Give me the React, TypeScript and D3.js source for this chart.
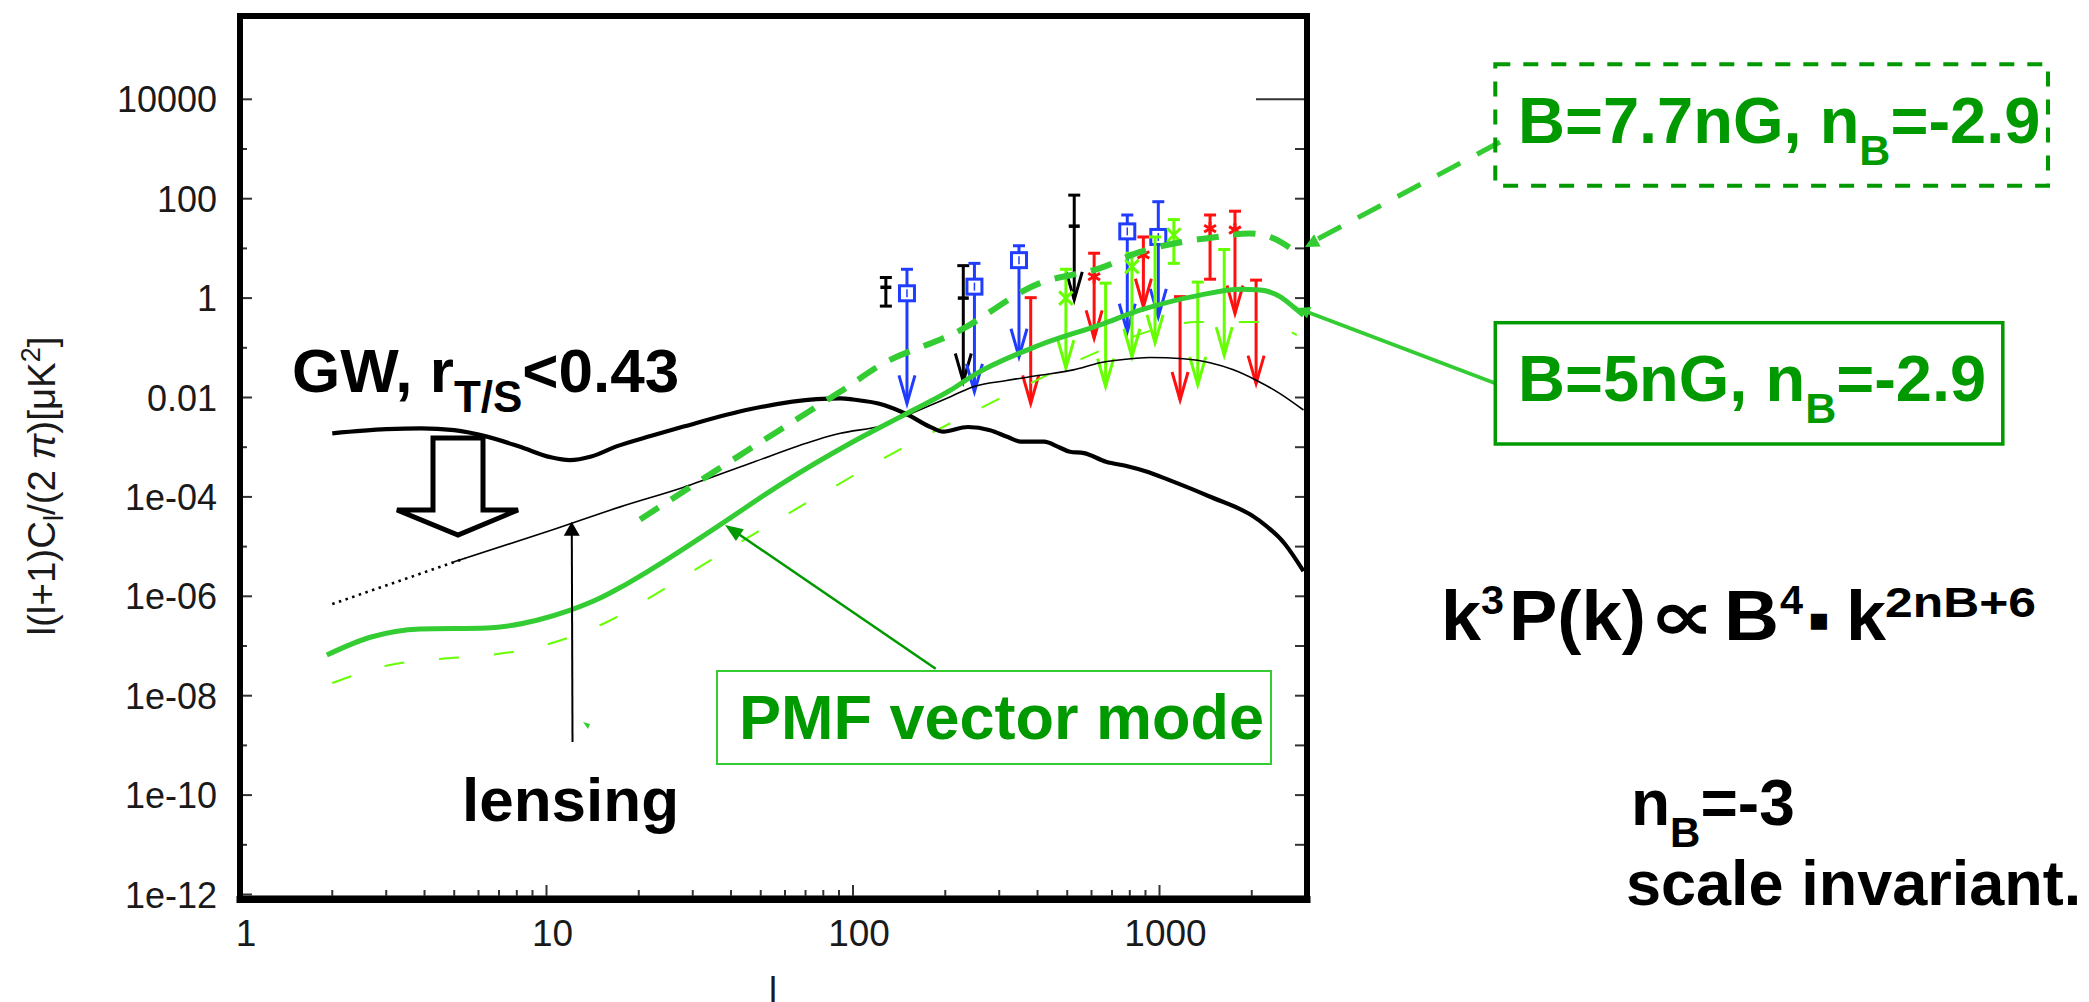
import React from "react";
import * as d3 from "d3";

// ---------- axis ticks ----------
const xMajorTicks = [10, 100, 1000];
const xLabelTicks = [1, 10, 100, 1000];
const xTickLabels = ["1", "10", "100", "1000"];
const xMinorTicks = [2, 3, 4, 5, 6, 7, 8, 9, 20, 30, 40, 50, 60, 70, 80, 90, 200, 300, 400, 500, 600, 700, 800, 900, 2000];
const yMajorTicks = [1e4, 1e2, 1, 1e-2, 1e-4, 1e-6, 1e-8, 1e-10, 1e-12];
const yTickLabels = ["10000", "100", "1", "0.01", "1e-04", "1e-06", "1e-08", "1e-10", "1e-12"];
const yMinorTicks = [1e3, 1e1, 1e-1, 1e-3, 1e-5, 1e-7, 1e-9, 1e-11];
const yRightTicks = [1e3, 1e2, 1e1, 1, 1e-1, 1e-2, 1e-3, 1e-4, 1e-5, 1e-6, 1e-7, 1e-8, 1e-9, 1e-10, 1e-11];
const yRightLongTick = [1e4];

// ---------- curves: [l, l(l+1)C_l/2pi] ----------
const gwTensor: [number, number][] = [
  [2, 1.9e-3], [3, 2.3e-3], [3.9, 2.4e-3], [5, 2.2e-3], [6.4, 1.63e-3], [8.2, 1.02e-3],
  [10.3, 6.3e-4], [11.9, 5.5e-4], [14, 6.5e-4], [17, 1.05e-3], [22, 1.7e-3], [28, 2.6e-3],
  [46, 5.8e-3], [76, 9.3e-3], [91, 9.6e-3], [100, 9.1e-3], [126, 7.1e-3], [150, 4.6e-3],
  [180, 2.5e-3], [197, 2.05e-3], [237, 2.55e-3], [280, 2.2e-3], [320, 1.6e-3], [353, 1.3e-3],
  [420, 1.3e-3], [470, 1.0e-3], [510, 8.1e-4], [567, 7.6e-4], [669, 5.1e-4], [792, 4.1e-4],
  [900, 3.3e-4], [1072, 2.2e-4], [1450, 1.03e-4], [2096, 3.5e-5], [2565, 1.13e-5], [2950, 3.2e-6],
];
const lensingLowL: [number, number][] = [[2, 7e-7], [5.42, 5.8e-6]];
const lensing: [number, number][] = [
  [4.97, 4.9e-6], [10.3, 2.1e-5], [17.4, 6.3e-5], [27.9, 1.55e-4], [46, 4.7e-4], [76, 1.4e-3],
  [91, 1.9e-3], [126, 2.8e-3], [150, 4.4e-3], [208, 1.04e-2], [247, 1.65e-2], [317, 2.2e-2],
  [407, 2.8e-2], [524, 3.6e-2], [640, 5e-2], [822, 6.1e-2], [931, 6.4e-2], [1197, 6e-2],
  [1462, 5e-2], [1742, 3.6e-2], [2075, 2.2e-2], [2472, 1.2e-2], [2950, 5.6e-3],
];
const pmf5nG: [number, number][] = [
  [1.92, 6.6e-8], [2.66, 1.5e-7], [3.87, 2.2e-7], [6.4, 2.3e-7], [9.3, 3.3e-7], [11.9, 5.2e-7],
  [14.9, 9.1e-7], [17.4, 1.5e-6], [21.8, 3.4e-6], [36, 2.5e-5], [59, 1.9e-4], [98, 1.2e-3],
  [150, 4.8e-3], [208, 1.4e-2], [247, 2.8e-2], [407, 0.114], [640, 0.29], [864, 0.57],
  [1356, 1.15], [1832, 1.5], [2128, 1.45], [2472, 1.07], [2730, 0.67], [2950, 0.45],
];
const pmf77nG: [number, number][] = [
  [20.2, 3.5e-5], [36, 3.5e-4], [76, 6.5e-3], [90.7, 1.3e-2], [126, 4.9e-2], [191, 0.144],
  [208, 0.18], [407, 2.0], [640, 4.0], [864, 8.5], [1055, 11.7], [1537, 17], [1973, 20],
  [2351, 16], [2730, 9.3],
];
const pmfThin: [number, number][] = [
  [2.0, 1.8e-8], [3.0, 4e-8], [4.5, 5.5e-8], [6.4, 6.5e-8], [9.3, 9.5e-8], [13.6, 2.05e-7],
  [15.5, 2.9e-7], [21.8, 9.5e-7], [32.4, 4.3e-6], [67, 6.3e-5], [140, 8.5e-4], [302, 9.6e-3],
  [640, 8.7e-2], [955, 0.23], [1321, 0.33], [2128, 0.33], [2805, 0.18],
];

// ---------- measurements ----------
type Pt = { l: number; top: number; mid?: number; tip?: number; bottom?: number };
const blackData: Pt[] = [
  { l: 128, top: 2.6, mid: 1.65, bottom: 0.69 },
  { l: 229, top: 4.5, mid: 1.0, tip: 0.021 },
  { l: 527, top: 118, mid: 28, tip: 0.92 },
];
const blueData: Pt[] = [
  { l: 150, top: 3.8, mid: 1.25, tip: 7.6e-3 },
  { l: 249, top: 5.0, mid: 1.7, tip: 0.013 },
  { l: 348, top: 11.3, mid: 5.8, tip: 0.066 },
  { l: 785, top: 47, mid: 22, tip: 0.21 },
  { l: 991, top: 87, mid: 17, tip: 0.42 },
];
const redData: Pt[] = [
  { l: 380, top: 1.02, tip: 7.6e-3 },
  { l: 612, top: 8.0, mid: 2.7, tip: 0.155 },
  { l: 886, top: 17, mid: 7.4, tip: 0.67 },
  { l: 1167, top: 1.07, tip: 8.9e-3 },
  { l: 1462, top: 47, mid: 25, bottom: 2.4 },
  { l: 1763, top: 56, mid: 23.4, tip: 0.49 },
  { l: 2066, top: 2.3, tip: 0.019 },
];
const greenData: Pt[] = [
  { l: 495, top: 3.8, mid: 1.0, tip: 0.039 },
  { l: 667, top: 2.0, tip: 0.0166 },
  { l: 813, top: 8, mid: 4.3, tip: 0.066 },
  { l: 967, top: 17, tip: 0.126 },
  { l: 1114, top: 38, mid: 18.6, bottom: 5.0 },
  { l: 1333, top: 2.1, tip: 0.018 },
  { l: 1626, top: 9.5, tip: 0.071 },
];

const FONT = "'Liberation Sans', Arial, Helvetica, sans-serif";
const C_BLACK = "#000";
const C_BLUE = "#1f3cff";
const C_RED = "#ff1010";
const C_LGREEN = "#66ff00";
const C_GREEN = "#33cc33";
const C_DGREEN = "#009900";

const W = 2089;
const H = 1002;
const PL = 240, PR = 1307, PT = 16, PB = 899.5;

const x = d3.scaleLog().domain([1, 3000]).range([240, 240 + 306.5 * Math.log10(3000)]);
const y = d3.scaleLog().domain([1e-12, 1e4]).range([894.5, 894.5 - 49.7 * 16]);

const line = d3
  .line<[number, number]>()
  .x((d) => x(d[0]))
  .y((d) => y(d[1]))
  .curve(d3.curveMonotoneX);

const asterisk = d3.symbol().type(d3.symbolAsterisk).size(130);
const timesType = (d3 as any).symbolTimes || (d3 as any).symbolX || d3.symbolCross;
const times = d3.symbol().type(timesType).size(120);

function arrowHead(tx: number, ty: number, fx: number, fy: number, len: number, hw: number) {
  const dx = tx - fx, dy = ty - fy;
  const n = Math.hypot(dx, dy);
  const ux = dx / n, uy = dy / n;
  const bx = tx - ux * len, by = ty - uy * len;
  const px = -uy * hw, py = ux * hw;
  return `${tx},${ty} ${bx + px},${by + py} ${bx - px},${by - py}`;
}

function DataPoint({ p, color, marker }: { p: Pt; color: string; marker: string }) {
  const cx = x(p.l);
  const yt = y(p.top);
  const yEnd = p.tip !== undefined ? y(p.tip) : y(p.bottom as number);
  const sw = 3;
  return (
    <g stroke={color} fill="none" strokeWidth={sw}>
      <line x1={cx} x2={cx} y1={yt} y2={yEnd} />
      <line x1={cx - 6} x2={cx + 6} y1={yt} y2={yt} />
      {p.bottom !== undefined && <line x1={cx - 6} x2={cx + 6} y1={yEnd} y2={yEnd} />}
      {p.tip !== undefined && (
        <path d={`M${cx - 8},${yEnd - 28} L${cx},${yEnd} L${cx + 8},${yEnd - 28}`} />
      )}
      {p.mid !== undefined && marker === "dash" && (
        <line x1={cx - 5.5} x2={cx + 5.5} y1={y(p.mid)} y2={y(p.mid)} strokeWidth={3.5} />
      )}
      {p.mid !== undefined && marker === "square" && (
        <rect x={cx - 7.5} y={y(p.mid) - 7.5} width={15} height={15} strokeWidth={3} fill="white" />
      )}
      {p.mid !== undefined && marker === "square" && (
        <line x1={cx} x2={cx} y1={y(p.mid) - 4} y2={y(p.mid) + 4} strokeWidth={1.5} />
      )}
      {p.mid !== undefined && marker === "asterisk" && (
        <path d={asterisk() as string} transform={`translate(${cx},${y(p.mid)})`} />
      )}
      {p.mid !== undefined && marker === "times" && (
        <path d={times() as string} transform={`translate(${cx},${y(p.mid)})`} />
      )}
    </g>
  );
}

export default function App() {
  const tickColor = "#333";
  return (
    <div>
      <style>{`body{margin:0;background:#fff}`}</style>
      <svg width={W} height={H} style={{ position: "absolute", left: 0, top: 0, background: "#fff" }} fontFamily={FONT}>
        <defs>
          <clipPath id="plotclip">
            <rect x={PL} y={PT} width={PR - PL} height={PB - PT} />
          </clipPath>
        </defs>

        {/* thin axis baseline */}
        <line x1={PL} x2={PR} y1={895.5} y2={895.5} stroke="#777" strokeWidth={1.2} />

        {/* left ticks */}
        {yMajorTicks.map((t, i) => (
          <line key={"ym" + i} x1={PL} x2={PL + 12} y1={y(t)} y2={y(t)} stroke={tickColor} strokeWidth={2} />
        ))}
        {yMinorTicks.map((t, i) => (
          <line key={"yn" + i} x1={PL} x2={PL + 7} y1={y(t)} y2={y(t)} stroke={tickColor} strokeWidth={2} />
        ))}
        {/* right ticks */}
        {yRightTicks.map((t, i) => (
          <line key={"yr" + i} x1={PR - 12} x2={PR} y1={y(t)} y2={y(t)} stroke={tickColor} strokeWidth={2} />
        ))}
        {yRightLongTick.map((t, i) => (
          <line key={"yrl" + i} x1={1256} x2={PR} y1={y(t)} y2={y(t)} stroke={tickColor} strokeWidth={2} />
        ))}
        {/* bottom ticks */}
        {xMajorTicks.map((t, i) => (
          <line key={"xm" + i} x1={x(t)} x2={x(t)} y1={896} y2={885} stroke={tickColor} strokeWidth={2} />
        ))}
        {xMinorTicks.map((t, i) => (
          <line key={"xn" + i} x1={x(t)} x2={x(t)} y1={896} y2={890} stroke={tickColor} strokeWidth={2} />
        ))}

        {/* tick labels */}
        {yMajorTicks.map((t, i) => (
          <text key={"yl" + i} x={217} y={y(t) + 13} textAnchor="end" fontSize={36} fill="#1a1a1a">
            {yTickLabels[i]}
          </text>
        ))}
        {xLabelTicks.map((t, i) => (
          <text key={"xl" + i} x={x(t) + 6} y={946} textAnchor="middle" fontSize={37} fill="#1a1a1a">
            {xTickLabels[i]}
          </text>
        ))}

        {/* axis titles */}
        <text transform="translate(55,486) rotate(-90)" textAnchor="middle" fontSize={38.5} fill="#1a1a1a">
          l(l+1)C<tspan dy={8} fontSize={27}>l</tspan>
          <tspan dy={-8}>/(2 </tspan>
          <tspan fontStyle="italic">π</tspan>
          <tspan>)[μK</tspan>
          <tspan dy={-15} fontSize={27}>2</tspan>
          <tspan dy={15}>]</tspan>
        </text>
        <text x={773} y={1003} textAnchor="middle" fontSize={36} fill="#1a1a1a">l</text>

        {/* measurements */}
        <g>
          {blackData.map((p, i) => <DataPoint key={"b" + i} p={p} color={C_BLACK} marker="dash" />)}
          {blueData.map((p, i) => <DataPoint key={"u" + i} p={p} color={C_BLUE} marker="square" />)}
          {redData.map((p, i) => <DataPoint key={"r" + i} p={p} color={C_RED} marker="asterisk" />)}
          {greenData.map((p, i) => <DataPoint key={"g" + i} p={p} color={C_LGREEN} marker="times" />)}
        </g>

        {/* curves */}
        <g clipPath="url(#plotclip)" fill="none">
          <path d={line(pmfThin) as string} stroke={C_LGREEN} strokeWidth={2} strokeDasharray="20,35" />
          <path d={line(lensingLowL) as string} stroke="#000" strokeWidth={2.6} strokeDasharray="2.5,4.5" />
          <path d={line(lensing) as string} stroke="#000" strokeWidth={1.6} />
          <path d={line(gwTensor) as string} stroke="#000" strokeWidth={4.2} />
          <path d={line(pmf5nG) as string} stroke={C_GREEN} strokeWidth={5} />
          <path d={line(pmf77nG) as string} stroke={C_GREEN} strokeWidth={6} strokeDasharray="22,15" />
        </g>

        {/* frame */}
        <g stroke="#000" strokeLinecap="square">
          <line x1={PL} x2={PL} y1={PT} y2={PB} strokeWidth={6} />
          <line x1={PL} x2={PR} y1={PT} y2={PT} strokeWidth={6} />
          <line x1={PR} x2={PR} y1={PT} y2={PB} strokeWidth={6} />
          <line x1={PL} x2={PR} y1={PB} y2={PB} strokeWidth={7} />
        </g>

        {/* hollow GW arrow */}
        <polygon
          points="433,438 483,438 483,510 518,510 458,535 397,510 433,510"
          fill="#fff"
          stroke="#000"
          strokeWidth={5}
          strokeLinejoin="miter"
        />

        {/* lensing arrow */}
        <line x1={572.5} y1={742} x2={571.8} y2={534} stroke="#000" strokeWidth={2} />
        <polygon points={arrowHead(571.7, 521.7, 572.5, 742, 14, 8)} fill="#000" />

        {/* PMF arrow */}
        <line x1={935.7} y1={668.8} x2={737} y2={533} stroke={C_DGREEN} strokeWidth={2.5} />
        <polygon points={arrowHead(725, 525, 935.7, 668.8, 18, 7)} fill={C_DGREEN} />

        {/* small green artifact */}
        <polygon points="583,722 590,724 588,729" fill={C_GREEN} />

        {/* connectors to labels */}
        <line x1={1494.5} y1={383} x2={1306} y2={311.5} stroke={C_GREEN} strokeWidth={4} />
        <polygon points={arrowHead(1297, 308, 1494.5, 383, 13, 6)} fill={C_GREEN} />
        <line x1={1500} y1={142} x2={1314} y2={241} stroke={C_GREEN} strokeWidth={5} strokeDasharray="26,19" />
        <polygon points={arrowHead(1305, 247, 1500, 142, 14, 7)} fill={C_GREEN} />

        {/* label boxes */}
        <rect x={1495.3} y={64.3} width={552.7} height={121.4} fill="none" stroke={C_DGREEN} strokeWidth={4} strokeDasharray="15,13" />
        <rect x={1495.3} y={322.7} width={507.5} height={121.3} fill="none" stroke={C_DGREEN} strokeWidth={3.5} />
        <rect x={717} y={671} width={554} height={93} fill="none" stroke={C_GREEN} strokeWidth={2} />

        {/* annotation text */}
        <text x={292} y={392} fontSize={62} fontWeight="bold" fill="#000">
          GW, r<tspan dy={20} fontSize={44}>T/S</tspan>
          <tspan dy={-20}>&lt;0.43</tspan>
        </text>
        <text x={462} y={821} fontSize={62} fontWeight="bold" fill="#000">lensing</text>
        <text x={739} y={739} fontSize={63} fontWeight="bold" fill={C_DGREEN}>PMF vector mode</text>
        <text x={1518} y={143} fontSize={65} fontWeight="bold" fill={C_DGREEN}>
          B=7.7nG, n<tspan dy={22} fontSize={43}>B</tspan>
          <tspan dy={-22}>=-2.9</tspan>
        </text>
        <text x={1518} y={401} fontSize={65} fontWeight="bold" fill={C_DGREEN}>
          B=5nG, n<tspan dy={22} fontSize={43}>B</tspan>
          <tspan dy={-22}>=-2.9</tspan>
        </text>

        {/* formula */}
        <g fontWeight="bold" fill="#000">
          <text x={1441} y={640} fontSize={70} textLength={40} lengthAdjust="spacingAndGlyphs">k</text>
          <text x={1481} y={614} fontSize={40} textLength={23} lengthAdjust="spacingAndGlyphs">3</text>
          <text x={1509} y={640} fontSize={70} textLength={137} lengthAdjust="spacingAndGlyphs">P(k)</text>
          <text x={1649} y={640} fontSize={70} fontFamily="'DejaVu Sans', sans-serif" textLength={66} lengthAdjust="spacingAndGlyphs">∝</text>
          <text x={1724} y={640} fontSize={70} textLength={55} lengthAdjust="spacingAndGlyphs">B</text>
          <text x={1780} y={614} fontSize={40} textLength={23} lengthAdjust="spacingAndGlyphs">4</text>
          <text x={1809} y={627} fontSize={21} fontFamily="'DejaVu Sans', sans-serif">■</text>
          <text x={1846} y={640} fontSize={70} textLength={40} lengthAdjust="spacingAndGlyphs">k</text>
          <text x={1885} y={617} fontSize={42} textLength={151} lengthAdjust="spacingAndGlyphs">2nB+6</text>
        </g>
        <text x={1631} y={825} fontSize={64} fontWeight="bold" fill="#000">
          n<tspan dy={22} fontSize={42}>B</tspan>
          <tspan dy={-22}>=-3</tspan>
        </text>
        <text x={1626} y={905} fontSize={63} fontWeight="bold" fill="#000">scale invariant.</text>
      </svg>
    </div>
  );
}
